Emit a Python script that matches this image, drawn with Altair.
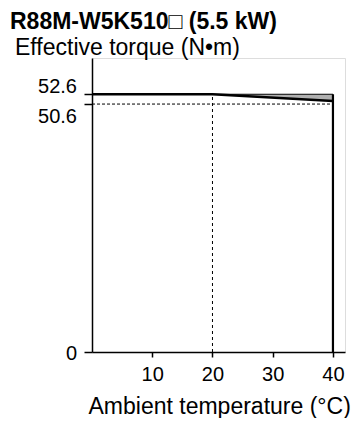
import altair as alt
import pandas as pd

# ---- data ----
title_text = "R88M-W5K510\u25a1 (5.5 kW)"
y_title = "Effective torque (N\u2022m)"
x_title = "Ambient temperature (\u00b0C)"

temps = [0, 20, 40]
torque_line = [52.6, 52.6, 51.2]      # effective torque curve
hatch_temps = [20, 40]
hatch_upper = [52.6, 52.6]
hatch_lower = [52.6, 51.2]
rated_torque = 52.6
derated_torque = 50.6
knee_temp = 20
max_temp = 40
x_ticks = [10, 20, 30, 40]
y_ticks = [0, 50.6, 52.6]
y_labels = ["0", "50.6", "52.6"]
y_label_dy = [8, 19, -1]

FONT = "Liberation Sans"

xs = alt.Scale(domain=[0, 42], nice=False, zero=False)
ys = alt.Scale(domain=[0, 60], nice=False)

line_df = pd.DataFrame({"t": temps, "v": torque_line})
hatch_df = pd.DataFrame({"t": hatch_temps, "hi": hatch_upper, "lo": hatch_lower})
base = alt.Chart(line_df)

axis_layer = alt.Chart(pd.DataFrame({"t": [0], "v": [0]})).mark_point(opacity=0).encode(
    x=alt.X("t:Q", scale=xs,
            axis=alt.Axis(values=x_ticks, title=x_title, grid=False,
                          domainColor="black", domainWidth=1.5, tickColor="black",
                          tickWidth=1.5, tickSize=5, labelFontSize=20, labelFont=FONT,
                          labelColor="black", labelPadding=7,
                          titleFont=FONT, titleFontSize=23, titleFontWeight="normal",
                          titleColor="black", titleAlign="left", titleBaseline="alphabetic",
                          titleX=-4, titleY=61, titleAnchor="start")),
    y=alt.Y("v:Q", scale=ys,
            axis=alt.Axis(values=y_ticks, labels=False, title=None, grid=False,
                          domainColor="black", domainWidth=1.5, tickColor="black",
                          tickWidth=1.5, tickSize=8)),
)

hatch = alt.Chart(hatch_df).mark_area(color="#b0b0b0").encode(
    x=alt.X("t:Q", scale=xs), y=alt.Y("hi:Q", scale=ys), y2="lo:Q")
hatch_top = alt.Chart(hatch_df).mark_line(color="black", strokeWidth=1).encode(
    x=alt.X("t:Q", scale=xs), y=alt.Y("hi:Q", scale=ys))

main_line = base.mark_line(color="black", strokeWidth=2.5).encode(
    x=alt.X("t:Q", scale=xs), y=alt.Y("v:Q", scale=ys))

right_v = alt.Chart(pd.DataFrame({"t": [max_temp], "v0": [0], "v1": [rated_torque]})).mark_rule(
    color="black", strokeWidth=2.2).encode(
    x=alt.X("t:Q", scale=xs), y=alt.Y("v0:Q", scale=ys), y2="v1:Q")

knee_v = alt.Chart(pd.DataFrame({"t": [knee_temp], "v0": [0], "v1": [rated_torque]})).mark_rule(
    color="black", strokeWidth=1, strokeDash=[3, 3]).encode(
    x=alt.X("t:Q", scale=xs), y=alt.Y("v0:Q", scale=ys), y2="v1:Q")

derate_h = alt.Chart(pd.DataFrame({"t0": [0], "t1": [max_temp], "v": [derated_torque]})).mark_rule(
    color="black", strokeWidth=1, strokeDash=[3, 2]).encode(
    x=alt.X("t0:Q", scale=xs), x2="t1:Q", y=alt.Y("v:Q", scale=ys))

label_layers = []
for val, lab, dy in zip(y_ticks, y_labels, y_label_dy):
    label_layers.append(
        alt.Chart(pd.DataFrame({"v": [val], "lab": [lab]})).mark_text(
            align="right", baseline="alphabetic", dy=dy, fontSize=20, font=FONT,
            color="black").encode(
            x=alt.value(-15), y=alt.Y("v:Q", scale=ys), text="lab:N"))

title_layer = alt.Chart(pd.DataFrame({"s": [title_text]})).mark_text(
    align="left", baseline="alphabetic", fontSize=23, fontWeight="bold", font=FONT,
    color="black").encode(x=alt.value(-82), y=alt.value(-29), text="s:N")
sub_layer = alt.Chart(pd.DataFrame({"s": [y_title]})).mark_text(
    align="left", baseline="alphabetic", fontSize=23, font=FONT,
    color="black").encode(x=alt.value(-77), y=alt.value(-3), text="s:N")

chart = alt.layer(
    axis_layer, hatch, hatch_top, derate_h, knee_v, main_line, right_v,
    *label_layers, title_layer, sub_layer
).properties(
    width=253, height=294,
    autosize=alt.AutoSizeParams(type="none"),
    padding={"left": 84, "top": 50, "right": 7, "bottom": 66},
).configure_view(stroke=None).configure(background="white")

chart.save("out.html", embed_options={"renderer": "svg", "actions": False})
